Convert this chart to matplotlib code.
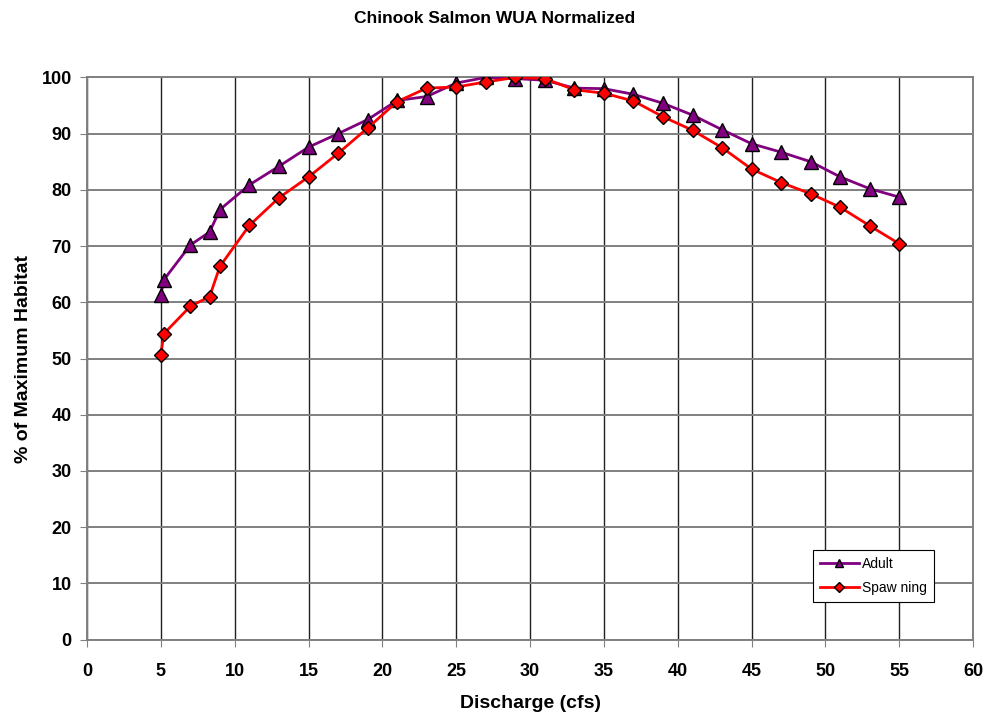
import matplotlib
matplotlib.use("Agg")
import matplotlib.pyplot as plt

plt.rcParams['font.family'] = ['Liberation Sans', 'DejaVu Sans']

# === Data ===
adult_x = [5, 5.2, 7, 8.3, 9, 11, 13, 15, 17, 19, 21, 23, 25, 27, 29, 31, 33, 35,
           37, 39, 41, 43, 45, 47, 49, 51, 53, 55]
adult_y = [61.3, 64.0, 70.2, 72.5, 76.5, 80.9, 84.2, 87.6, 90.0, 92.5, 95.9, 96.6,
           99.0, 100.0, 99.8, 99.5, 98.1, 98.0, 97.0, 95.4, 93.3, 90.7, 88.2, 86.7,
           85.0, 82.3, 80.2, 78.7]

spawn_x = adult_x
spawn_y = [50.7, 54.4, 59.3, 61.0, 66.4, 73.7, 78.6, 82.3, 86.5, 91.0, 95.7, 98.1,
           98.3, 99.2, 100.0, 99.8, 97.8, 97.2, 95.8, 93.0, 90.6, 87.5, 83.7, 81.3,
           79.3, 76.9, 73.6, 70.4]

x_ticks = list(range(0, 61, 5))
y_ticks = list(range(0, 101, 10))

fig = plt.figure(figsize=(9.89, 7.17), dpi=100)
ax = fig.add_axes([0.088, 0.108, 0.896, 0.784])

ax.plot(adult_x, adult_y, color='#800080', lw=2, marker='^', ms=10,
        markerfacecolor='#800080', markeredgecolor='black', markeredgewidth=1,
        label='Adult', zorder=3)
ax.plot(spawn_x, spawn_y, color='#FF0000', lw=2, marker='D', ms=7.3,
        markerfacecolor='#FF0000', markeredgecolor='black', markeredgewidth=1,
        label='Spaw ning', zorder=4)

ax.set_xlim(0, 60)
ax.set_ylim(0, 100)
ax.set_xticks(x_ticks)
ax.set_yticks(y_ticks)
ax.grid(True, axis='y', color='#808080', lw=1.4)
ax.grid(True, axis='x', color='#202020', lw=1)
ax.set_axisbelow(True)
for s in ax.spines.values():
    s.set_color('#808080')
    s.set_linewidth(1.4)
ax.tick_params(axis='x', direction='out', length=5, color='#808080', labelsize=13, pad=12)
ax.tick_params(axis='y', direction='out', length=5, color='#808080', labelsize=13, pad=6)
for lbl in ax.get_xticklabels() + ax.get_yticklabels():
    lbl.set_fontweight('bold')

ax.set_xlabel('Discharge (cfs)', fontsize=14, fontweight='bold', labelpad=11)
ax.set_ylabel('% of Maximum Habitat', fontsize=14, fontweight='bold', labelpad=7)
fig.suptitle('Chinook Salmon WUA Normalized', fontsize=12.5, fontweight='bold', y=0.985)

leg = ax.legend(loc='lower left', bbox_to_anchor=(0.819, 0.067, 0.137, 0.096),
                mode='expand', fontsize=10, frameon=True, fancybox=False,
                edgecolor='black', framealpha=1, handlelength=2.8, handletextpad=0.25,
                borderaxespad=0, borderpad=0.5, labelspacing=0.75)
leg.get_frame().set_linewidth(0.8)
for h in leg.legend_handles:
    h.set_markersize(5.5)

fig.savefig('out.png', dpi=100)
